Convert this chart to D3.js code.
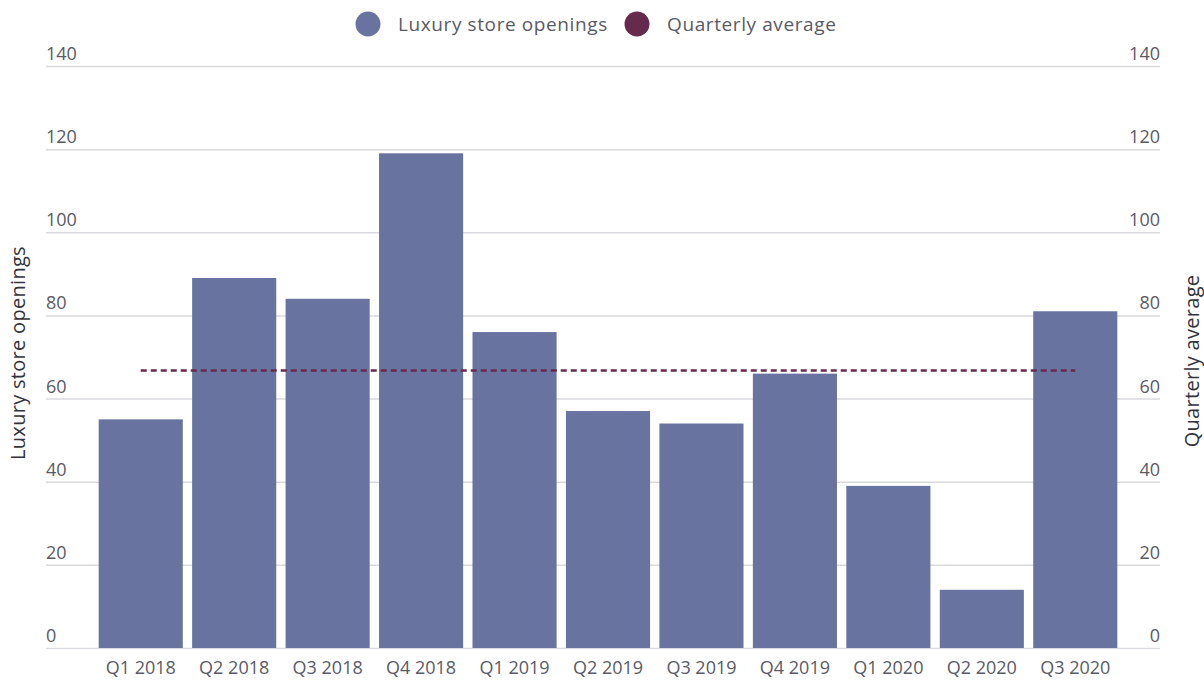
<!DOCTYPE html>
<html lang="en">
<head>
  <meta charset="UTF-8">
  <title>Luxury store openings</title>
  <script src="https://d3js.org/d3.v7.min.js"></script>
  <style>
    body { margin: 0; background: #fff; }
    svg text { font-family: "Open Sans", Lato, sans-serif; fill: #5a5a66; }
    .gridlines .domain { stroke: none; }
    .gridlines line { stroke: #d9d9df; stroke-width: 1.5; }
    .x.axis .domain, .x.axis line { stroke: none; }
  </style>
</head>
<body>
  <svg id="chart" width="1204" height="682"></svg>
  <script>
    // data
    const quarters = ["Q1 2018", "Q2 2018", "Q3 2018", "Q4 2018", "Q1 2019", "Q2 2019",
                      "Q3 2019", "Q4 2019", "Q1 2020", "Q2 2020", "Q3 2020"];
    const openings = [55, 89, 84, 119, 76, 57, 54, 66, 39, 14, 81];
    const yTicks = [0, 20, 40, 60, 80, 100, 120, 140];
    const seriesNames = ["Luxury store openings", "Quarterly average"];

    const barColor = "#6873a0";
    const avgColor = "#652a4c";

    const svg = d3.select("svg#chart");
    let gridLeft = 46, gridRight = 1160;
    let plotTop = 66, plotBottom = 648;

    const avg = d3.mean(openings);

    const xScale = d3.scaleBand()
                     .domain(quarters)
                     .range([94, 1122])
                     .paddingInner(0.1)
                     .paddingOuter(0.05);
    const yScale = d3.scaleLinear()
                     .domain([0, 140])
                     .range([plotBottom, plotTop]);

    // gridlines
    let grid = d3.axisLeft(yScale)
                 .tickValues(yTicks)
                 .tickFormat("")
                 .tickSize(-(gridRight - gridLeft));
    svg.append("g")
       .attr("class", "gridlines")
       .attr("transform", `translate(${gridLeft},0)`)
       .call(grid);

    // left tick labels (sit above the gridline)
    svg.append("g").selectAll("text")
       .data(yTicks)
       .join("text")
       .attr("x", gridLeft)
       .attr("y", d => yScale(d) - 6)
       .attr("text-anchor", "start")
       .style("font-size", "18px")
       .text(d => d);

    // right tick labels
    svg.append("g").selectAll("text")
       .data(yTicks)
       .join("text")
       .attr("x", gridRight)
       .attr("y", d => yScale(d) - 6)
       .attr("text-anchor", "end")
       .style("font-size", "18px")
       .text(d => d);

    // bars
    svg.append("g").selectAll("rect")
       .data(openings)
       .join("rect")
       .attr("x", (d, i) => xScale(quarters[i]))
       .attr("y", d => yScale(d))
       .attr("width", xScale.bandwidth())
       .attr("height", d => yScale(0) - yScale(d))
       .style("fill", barColor);

    // average line
    svg.append("line")
       .attr("x1", xScale(quarters[0]) + xScale.bandwidth() / 2)
       .attr("x2", xScale(quarters[quarters.length - 1]) + xScale.bandwidth() / 2)
       .attr("y1", yScale(avg))
       .attr("y2", yScale(avg))
       .style("stroke", avgColor)
       .style("stroke-width", 2.5)
       .style("stroke-dasharray", "6,4");

    // x axis
    let bottomAxis = d3.axisBottom(xScale).tickSize(0).tickPadding(13);
    svg.append("g")
       .attr("class", "x axis")
       .attr("transform", `translate(0,${plotBottom})`)
       .call(bottomAxis)
       .selectAll("text")
       .style("font-size", "18px")
       .style("font-family", "'Open Sans', sans-serif")
       .style("fill", "#5a5a66");

    // axis titles
    svg.append("text")
       .attr("transform", `translate(25,353) rotate(-90)`)
       .attr("text-anchor", "middle")
       .style("font-size", "20px")
       .style("letter-spacing", "0.3px")
       .style("fill", "#33333b")
       .text(seriesNames[0]);

    svg.append("text")
       .attr("transform", `translate(1199,361) rotate(-90)`)
       .attr("text-anchor", "middle")
       .style("font-size", "20px")
       .style("letter-spacing", "0.3px")
       .style("fill", "#33333b")
       .text(seriesNames[1]);

    // legend
    let legend = svg.append("g");
    const legendX = [368, 637];
    const legendColors = [barColor, avgColor];
    seriesNames.forEach((name, i) => {
      legend.append("circle")
            .attr("cx", legendX[i])
            .attr("cy", 24)
            .attr("r", 12.5)
            .style("fill", legendColors[i]);
      legend.append("text")
            .attr("x", legendX[i] + 30)
            .attr("y", 31)
            .style("font-size", "19px")
            .style("letter-spacing", "0.6px")
            .text(name);
    });
  </script>
</body>
</html>
